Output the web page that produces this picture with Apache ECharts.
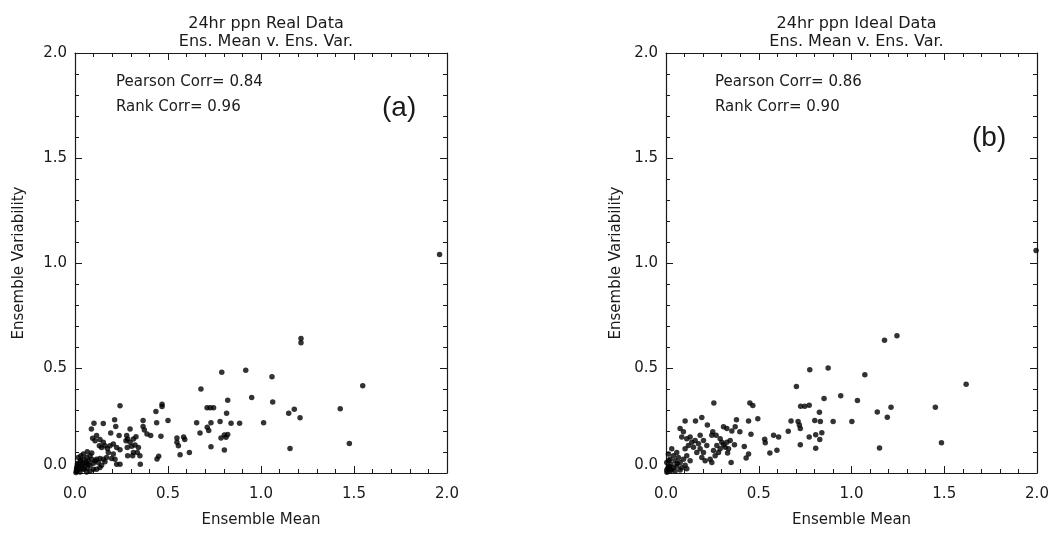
<!DOCTYPE html>
<html>
<head>
<meta charset="utf-8">
<script src="https://cdn.jsdelivr.net/npm/echarts@6/dist/echarts.min.js"></script>
<style>
html,body{margin:0;padding:0;background:#fff;}
#c{width:1052px;height:533px;}
</style>
</head>
<body>
<div id="c"></div>
<script>
// ---- Data ----
var panelTitles = ["24hr ppn Real Data\nEns. Mean v. Ens. Var.", "24hr ppn Ideal Data\nEns. Mean v. Ens. Var."];
var corrTexts = ["Pearson Corr= 0.84\nRank Corr= 0.96", "Pearson Corr= 0.86\nRank Corr= 0.90"];
var panelTags = ["(a)", "(b)"];
var xAxisName = "Ensemble Mean";
var yAxisName = "Ensemble Variability";
var axisTicks = [0.0, 0.5, 1.0, 1.5, 2.0];

// Panel (a): real data [ensemble mean, ensemble variability]
var realData = [
  [1.96,1.04],[1.215,0.641],[1.215,0.62],[0.789,0.48],[0.918,0.489],[1.059,0.458],[0.677,0.40],
  [1.547,0.415],[0.821,0.346],[0.95,0.36],[1.063,0.338],[0.242,0.32],[0.468,0.317],[0.468,0.327],
  [0.435,0.293],[0.71,0.311],[0.727,0.311],[0.745,0.311],[0.815,0.284],[1.149,0.285],[1.179,0.303],
  [1.21,0.263],[1.426,0.306],[0.213,0.253],[0.366,0.25],[0.439,0.239],[0.5,0.25],[0.654,0.239],
  [0.731,0.239],[0.78,0.245],[0.839,0.237],[0.885,0.237],[1.014,0.239],[0.102,0.237],[0.152,0.236],
  [0.219,0.221],[0.088,0.21],[0.296,0.21],[0.366,0.221],[0.373,0.205],[0.387,0.186],[0.407,0.179],
  [0.462,0.175],[0.672,0.191],[0.711,0.218],[0.719,0.202],[0.803,0.181],[0.821,0.183],[0.812,0.17],
  [0.785,0.167],[0.584,0.171],[0.59,0.159],[0.548,0.167],[0.548,0.146],[0.556,0.13],[0.192,0.191],
  [0.237,0.178],[0.278,0.178],[0.283,0.162],[0.731,0.125],[0.803,0.11],[1.156,0.117],[1.475,0.141],
  [0.615,0.098],[0.565,0.087],[0.45,0.08],[0.441,0.067],[0.351,0.042],[0.242,0.042],
  [0.095,0.165],[0.116,0.178],[0.108,0.154],[0.134,0.159],[0.152,0.146],[0.131,0.13],[0.143,0.122],
  [0.161,0.13],[0.174,0.117],[0.188,0.13],[0.206,0.138],[0.224,0.122],[0.242,0.111],[0.179,0.098],
  [0.206,0.09],[0.197,0.069],[0.215,0.066],[0.224,0.042],[0.274,0.154],[0.296,0.146],[0.314,0.162],
  [0.328,0.173],[0.305,0.127],[0.323,0.133],[0.341,0.122],[0.281,0.122],[0.349,0.082],[0.314,0.098],
  [0.335,0.098],[0.31,0.082],[0.283,0.082],[0.018,0.074],[0.03,0.058],[0.045,0.066],[0.063,0.074],
  [0.081,0.082],[0.072,0.058],[0.09,0.066],[0.036,0.034],[0.054,0.046],[0.023,0.018],[0.045,0.018],
  [0.066,0.026],[0.081,0.037],[0.099,0.046],[0.108,0.058],[0.116,0.066],[0.125,0.05],[0.134,0.069],
  [0.152,0.066],[0.17,0.074],[0.161,0.053],[0.143,0.037],[0.009,0.01],[0.027,0.005],[0.081,0.01],
  [0.063,0.005],[0.099,0.018],[0.116,0.018],[0.134,0.026],[0.09,0.095],[0.066,0.101],[0.045,0.09],
  [0.032,0.082],[0.013,0.042],[0.009,0.026],[0.005,0.002],[0.01,0.01],[0.02,0.03],[0.015,0.045],
  [0.04,0.04],[0.05,0.02],[0.06,0.05],[0.07,0.04],[0.03,0.06],[0.008,0.015]
];

// Panel (b): ideal data [ensemble mean, ensemble variability]
var idealData = [
  [1.995,1.06],[1.178,0.632],[1.245,0.653],[0.775,0.492],[0.874,0.50],[1.072,0.468],[0.703,0.412],
  [1.618,0.423],[0.852,0.355],[0.942,0.368],[1.032,0.345],[0.258,0.333],[0.452,0.333],[0.468,0.321],
  [0.726,0.318],[0.748,0.318],[0.772,0.323],[1.213,0.313],[1.452,0.313],[1.139,0.29],[1.193,0.266],
  [0.103,0.248],[0.159,0.248],[0.193,0.264],[0.223,0.228],[0.445,0.248],[0.495,0.258],[0.38,0.253],
  [0.674,0.248],[0.712,0.245],[0.719,0.228],[0.724,0.212],[0.802,0.25],[0.832,0.245],[0.827,0.289],
  [0.901,0.245],[1.002,0.245],[0.659,0.199],[0.458,0.185],[0.398,0.196],[0.355,0.2],[0.373,0.22],
  [0.31,0.22],[0.328,0.212],[0.772,0.171],[0.807,0.182],[0.84,0.192],[0.829,0.159],[0.58,0.18],
  [0.607,0.171],[0.532,0.161],[0.535,0.144],[0.724,0.134],[0.807,0.118],[1.151,0.119],[1.485,0.144],
  [0.598,0.108],[0.56,0.095],[0.445,0.09],[0.432,0.071],[0.351,0.05],[0.422,0.126],[0.369,0.134],
  [0.292,0.163],[0.301,0.147],[0.31,0.134],[0.328,0.147],[0.274,0.131],[0.292,0.115],[0.319,0.123],
  [0.337,0.115],[0.346,0.155],[0.256,0.107],[0.283,0.098],[0.332,0.095],[0.265,0.082],[0.238,0.066],
  [0.247,0.05],[0.076,0.212],[0.094,0.196],[0.085,0.172],[0.112,0.163],[0.13,0.172],[0.139,0.147],
  [0.157,0.155],[0.175,0.139],[0.148,0.123],[0.121,0.131],[0.103,0.115],[0.184,0.115],[0.202,0.098],
  [0.166,0.098],[0.193,0.074],[0.211,0.058],[0.22,0.131],[0.202,0.155],[0.184,0.18],[0.247,0.18],
  [0.27,0.18],[0.252,0.196],[0.013,0.09],[0.022,0.066],[0.04,0.082],[0.058,0.098],[0.049,0.058],
  [0.067,0.074],[0.076,0.05],[0.094,0.066],[0.027,0.042],[0.013,0.03],[0.04,0.025],[0.058,0.033],
  [0.085,0.025],[0.103,0.037],[0.004,0.014],[0.022,0.009],[0.049,0.009],[0.076,0.014],[0.112,0.02],
  [0.004,0.05],[0.031,0.115],[0.112,0.082],[0.13,0.058],[0.005,0.003],[0.01,0.02],[0.03,0.015],
  [0.02,0.03],[0.06,0.045],[0.015,0.06]
];

// ---- Chart ----
var FONT = "DejaVu Sans";
var INK = "#1a1a1a";
var grids = [
  {left: 75, width: 372, top: 53, height: 424},
  {left: 666, width: 371, top: 53, height: 420}
];
var yNameGaps = [48, 42];
var textOffsetsX = [36, 44];
var tagOffsets = [36, 66];
var axisMin = axisTicks[0], axisMax = axisTicks[axisTicks.length - 1];
var majorStep = axisTicks[1] - axisTicks[0];

function fmt(v){ return v.toFixed(1); }

var xAxes = [], yAxes = [], series = [], titles = [];
[realData, idealData].forEach(function(data, i){
  var g = grids[i];
  xAxes.push({
    gridIndex: i, type: 'value', min: axisMin, max: axisMax, interval: majorStep, position: 'bottom',
    name: xAxisName, nameLocation: 'middle', nameGap: 40,
    nameTextStyle: {fontFamily: FONT, fontSize: 15, color: INK},
    axisLine: {show: true, onZero: false, lineStyle: {color: INK, width: 1.2}},
    axisTick: {show: true, inside: true, length: 7, lineStyle: {color: INK}},
    minorTick: {show: true, splitNumber: 5, length: 4, lineStyle: {color: INK}},
    splitLine: {show: false},
    axisLabel: {fontFamily: FONT, fontSize: 15, color: INK, margin: 14, formatter: fmt}
  });
  xAxes.push({
    gridIndex: i, type: 'value', min: axisMin, max: axisMax, interval: majorStep, position: 'top',
    axisLine: {show: true, onZero: false, lineStyle: {color: INK, width: 1.2}},
    axisTick: {show: true, inside: true, length: 7, lineStyle: {color: INK}},
    minorTick: {show: true, splitNumber: 5, length: 4, lineStyle: {color: INK}},
    splitLine: {show: false}, axisLabel: {show: false}
  });
  yAxes.push({
    gridIndex: i, type: 'value', min: axisMin, max: axisMax, interval: majorStep, position: 'left',
    name: yAxisName, nameLocation: 'middle', nameGap: yNameGaps[i], nameRotate: 90,
    nameTextStyle: {fontFamily: FONT, fontSize: 15, color: INK},
    axisLine: {show: true, onZero: false, lineStyle: {color: INK, width: 1.2}},
    axisTick: {show: true, inside: true, length: 7, lineStyle: {color: INK}},
    minorTick: {show: true, splitNumber: 5, length: 4, lineStyle: {color: INK}},
    splitLine: {show: false},
    axisLabel: {fontFamily: FONT, fontSize: 15, color: INK, margin: 8, formatter: fmt, verticalAlignMinLabel: 'bottom'}
  });
  yAxes.push({
    gridIndex: i, type: 'value', min: axisMin, max: axisMax, interval: majorStep, position: 'right',
    axisLine: {show: true, onZero: false, lineStyle: {color: INK, width: 1.2}},
    axisTick: {show: true, inside: true, length: 7, lineStyle: {color: INK}},
    minorTick: {show: true, splitNumber: 5, length: 4, lineStyle: {color: INK}},
    splitLine: {show: false}, axisLabel: {show: false}
  });
  series.push({
    type: 'scatter', xAxisIndex: 2 * i, yAxisIndex: 2 * i, data: data,
    symbol: 'circle', symbolSize: 5.5, itemStyle: {color: '#000'}, silent: true
  });
  titles.push({
    text: panelTitles[i], left: g.left + g.width / 2, top: 10, textAlign: 'center',
    textStyle: {fontFamily: FONT, fontSize: 16, fontWeight: 'normal', color: INK, lineHeight: 18}
  });
  titles.push({
    text: corrTexts[i], left: g.left + textOffsetsX[i], top: g.top + 12,
    textStyle: {fontFamily: FONT, fontSize: 15, fontWeight: 'normal', color: INK, lineHeight: 25}
  });
  titles.push({
    text: panelTags[i], left: g.left + g.width - 70, top: g.top + tagOffsets[i],
    textStyle: {fontFamily: "Liberation Sans", fontSize: 28, fontWeight: 'normal', color: INK}
  });
});

var chart = echarts.init(document.getElementById('c'), null, {renderer: 'canvas'});
chart.setOption({
  backgroundColor: '#fff',
  animation: false,
  title: titles,
  grid: grids,
  xAxis: xAxes,
  yAxis: yAxes,
  series: series
});
</script>
</body>
</html>
